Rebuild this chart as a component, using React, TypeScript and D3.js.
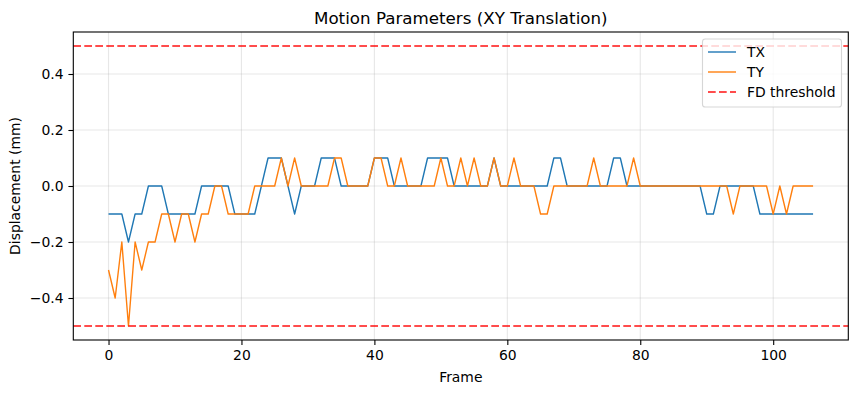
import React, { useEffect, useRef } from "react";
import * as d3 from "d3";

// displacement per frame (mm)
const tx = [
  -0.1, -0.1, -0.1, -0.2, -0.1, -0.1, 0, 0, 0, -0.1,
  -0.1, -0.1, -0.1, -0.1, 0, 0, 0, 0, 0, -0.1,
  -0.1, -0.1, -0.1, 0, 0.1, 0.1, 0.1, 0, -0.1, 0,
  0, 0, 0.1, 0.1, 0.1, 0, 0, 0, 0, 0,
  0.1, 0.1, 0.1, 0, 0, 0, 0, 0, 0.1, 0.1,
  0.1, 0.1, 0, 0, 0, 0, 0, 0, 0.1, 0,
  0, 0, 0, 0, 0, 0, 0, 0.1, 0.1, 0,
  0, 0, 0, 0, 0, 0, 0.1, 0.1, 0, 0,
  0, 0, 0, 0, 0, 0, 0, 0, 0, 0,
  -0.1, -0.1, 0, 0, 0, 0, 0, 0, -0.1, -0.1,
  -0.1, -0.1, -0.1, -0.1, -0.1, -0.1, -0.1,
];
const ty = [
  -0.3, -0.4, -0.2, -0.5, -0.2, -0.3, -0.2, -0.2, -0.1, -0.1,
  -0.2, -0.1, -0.1, -0.2, -0.1, -0.1, 0, 0, -0.1, -0.1,
  -0.1, -0.1, 0, 0, 0, 0, 0.1, 0, 0.1, 0,
  0, 0, 0, 0, 0.1, 0.1, 0, 0, 0, 0,
  0.1, 0.1, 0, 0, 0.1, 0, 0, 0, 0, 0,
  0.1, 0, 0, 0.1, 0, 0.1, 0, 0, 0.1, 0,
  0, 0.1, 0, 0, 0, -0.1, -0.1, 0, 0, 0,
  0, 0, 0, 0.1, 0, 0, 0, 0, 0, 0.1,
  0, 0, 0, 0, 0, 0, 0, 0, 0, 0,
  0, 0, 0, 0, -0.1, 0, 0, 0, 0, 0,
  -0.1, 0, -0.1, 0, 0, 0, 0,
];
const seriesNames = ["TX", "TY"];
const seriesColors = ["#1f77b4", "#ff7f0e"];
const fdThreshold = [0.5, -0.5];
const xTicks = [0, 20, 40, 60, 80, 100];
const yTicks = [-0.4, -0.2, 0, 0.2, 0.4];

const FONT = "DejaVu Sans, sans-serif";

const App = () => {
  const ref = useRef<SVGSVGElement>(null);

  useEffect(() => {
    const width = 857,
      height = 393;
    const left = 73.3,
      right = 848.3,
      top = 32,
      bottom = 340;

    const svg = d3.select(ref.current).attr("width", width).attr("height", height);
    svg.selectAll("*").remove();

    const n = tx.length - 1;
    const x = d3.scaleLinear().domain([-0.05 * n, n * 1.05]).range([left, right]);
    const y = d3.scaleLinear().domain([-0.55, 0.55]).range([bottom, top]);

    svg.append("rect").attr("width", width).attr("height", height).attr("fill", "white");

    // grid
    const grid = svg.append("g").attr("stroke", "#b0b0b0").attr("stroke-opacity", 0.3).attr("stroke-width", 1.1);
    grid
      .selectAll("line.vx")
      .data(xTicks)
      .join("line")
      .attr("x1", (d) => x(d))
      .attr("x2", (d) => x(d))
      .attr("y1", top)
      .attr("y2", bottom);
    grid
      .selectAll("line.hy")
      .data(yTicks)
      .join("line")
      .attr("x1", left)
      .attr("x2", right)
      .attr("y1", (d) => y(d))
      .attr("y2", (d) => y(d));

    // series
    const line = d3
      .line<number>()
      .x((d, i) => x(i))
      .y((d) => y(d));
    [tx, ty].forEach((s, k) => {
      svg
        .append("path")
        .datum(s)
        .attr("d", line)
        .attr("fill", "none")
        .attr("stroke", seriesColors[k])
        .attr("stroke-width", 1.39)
        .attr("stroke-linejoin", "round");
    });

    // FD threshold lines
    svg
      .selectAll("line.fd")
      .data(fdThreshold)
      .join("line")
      .attr("x1", left)
      .attr("x2", right)
      .attr("y1", (d) => y(d))
      .attr("y2", (d) => y(d))
      .attr("stroke", "red")
      .attr("stroke-opacity", 0.7)
      .attr("stroke-width", 2.08)
      .attr("stroke-dasharray", "7.7,3.3");

    // axes
    const xAxis = svg
      .append("g")
      .attr("transform", `translate(0,${bottom})`)
      .call(d3.axisBottom(x).tickValues(xTicks).tickSize(4.9).tickPadding(4.9).tickFormat(d3.format("d")));
    const yAxis = svg
      .append("g")
      .attr("transform", `translate(${left},0)`)
      .call(d3.axisLeft(y).tickValues(yTicks).tickSize(4.9).tickPadding(4.9).tickFormat(d3.format(".1f")));
    [xAxis, yAxis].forEach((a) => {
      a.select(".domain").remove();
      a.selectAll("line").attr("stroke", "black").attr("stroke-width", 1.1);
      a.selectAll("text").attr("fill", "black").style("font-family", FONT).style("font-size", "13.9px");
    });

    svg
      .append("rect")
      .attr("x", left)
      .attr("y", top)
      .attr("width", right - left)
      .attr("height", bottom - top)
      .attr("fill", "none")
      .attr("stroke", "black")
      .attr("stroke-width", 1.1);

    // labels
    svg
      .append("text")
      .attr("x", (left + right) / 2)
      .attr("y", 23.7)
      .attr("text-anchor", "middle")
      .style("font-family", FONT)
      .style("font-size", "16.7px")
      .text("Motion Parameters (XY Translation)");
    svg
      .append("text")
      .attr("x", (left + right) / 2)
      .attr("y", 382)
      .attr("text-anchor", "middle")
      .style("font-family", FONT)
      .style("font-size", "13.9px")
      .text("Frame");
    svg
      .append("text")
      .attr("transform", `translate(19.5,${(top + bottom) / 2}) rotate(-90)`)
      .attr("text-anchor", "middle")
      .style("font-family", FONT)
      .style("font-size", "13.9px")
      .text("Displacement (mm)");

    // legend
    const keys = [...seriesNames, "FD threshold"];
    const legend = svg.append("g");
    legend
      .append("rect")
      .attr("x", 702.5)
      .attr("y", 39)
      .attr("width", 139)
      .attr("height", 68)
      .attr("rx", 2.8)
      .attr("fill", "white")
      .attr("fill-opacity", 0.8)
      .attr("stroke", "#cccccc")
      .attr("stroke-opacity", 0.8)
      .attr("stroke-width", 1.1);
    legend
      .selectAll("line.key")
      .data(keys)
      .join("line")
      .attr("x1", 708)
      .attr("x2", 736)
      .attr("y1", (d, i) => 52 + i * 20)
      .attr("y2", (d, i) => 52 + i * 20)
      .attr("stroke", (d, i) => (i < 2 ? seriesColors[i] : "red"))
      .attr("stroke-opacity", (d, i) => (i < 2 ? 1 : 0.7))
      .attr("stroke-width", (d, i) => (i < 2 ? 1.39 : 2.08))
      .attr("stroke-dasharray", (d, i) => (i < 2 ? null : "7.7,3.3"));
    legend
      .selectAll("text.key")
      .data(keys)
      .join("text")
      .attr("x", 747)
      .attr("y", (d, i) => 52 + i * 20)
      .attr("dy", "0.36em")
      .style("font-family", FONT)
      .style("font-size", "13.9px")
      .text((d) => d);
  }, []);

  return (
    <div style={{ position: "absolute", left: 0, top: 0 }}>
      <svg ref={ref} style={{ display: "block" }}></svg>
    </div>
  );
};

export default App;
